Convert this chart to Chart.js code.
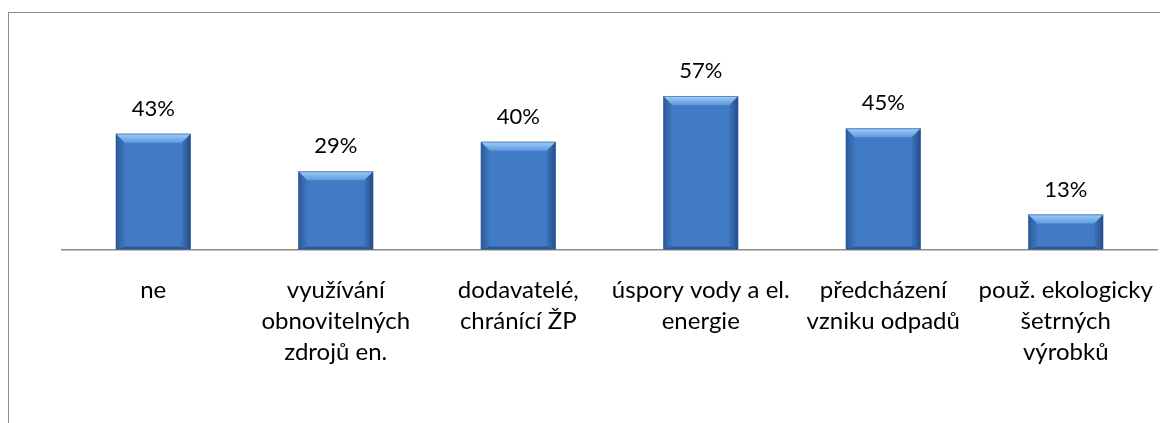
<!DOCTYPE html>
<html>
<head>
<meta charset="utf-8">
<script src="https://cdn.jsdelivr.net/npm/chart.js@4"></script>
<style>
  html, body { margin: 0; padding: 0; background: #fff; overflow: hidden; }
  #wrap { position: relative; width: 1160px; height: 423px; }
  #frame { position: absolute; left: 8px; top: 12px; width: 1300px; height: 600px;
           border: 1.5px solid #8c8c8c; box-sizing: border-box; }
  canvas { position: absolute; left: 0; top: 0; }
</style>
</head>
<body>
<div id="wrap">
  <div id="frame"></div>
  <canvas id="myChart" width="1160" height="423"></canvas>
</div>
<script>
// categories (multi-line labels, as in the picture)
const categories = [
  ["ne"],
  ["využívání", "obnovitelných", "zdrojů en."],
  ["dodavatelé,", "chránící ŽP"],
  ["úspory vody a el.", "energie"],
  ["předcházení", "vzniku odpadů"],
  ["použ. ekologicky", "šetrných", "výrobků"]
];
// share of answers in percent
const shares = [43, 29, 40, 57, 45, 13];

const fontName = 'Lato, "Open Sans", sans-serif';

// value labels above the bars
const valueLabels = {
  id: 'valueLabels',
  afterDatasetsDraw(chart) {
    const ctx = chart.ctx;
    const meta = chart.getDatasetMeta(0);
    ctx.save();
    ctx.font = '22px ' + fontName;
    ctx.fillStyle = '#000';
    ctx.textAlign = 'center';
    ctx.textBaseline = 'bottom';
    meta.data.forEach((bar, i) => {
      const p = bar.getProps(['x', 'y'], true);
      ctx.fillText(shares[i] + '%', p.x, p.y - 14);
    });
    ctx.restore();
  }
};

// bevel look of the bars
const bevel = {
  id: 'bevel',
  afterDatasetsDraw(chart) {
    const ctx = chart.ctx;
    const meta = chart.getDatasetMeta(0);
    const b = 9;
    ctx.save();
    meta.data.forEach((bar) => {
      const p = bar.getProps(['x', 'y', 'base', 'width'], true);
      const x0 = p.x - p.width / 2, x1 = p.x + p.width / 2;
      const y0 = p.y, y1 = p.base;
      // left edge
      let gl = ctx.createLinearGradient(x0, 0, x0 + b, 0);
      gl.addColorStop(0, 'rgba(20,50,100,0.45)');
      gl.addColorStop(1, 'rgba(20,50,100,0.05)');
      ctx.fillStyle = gl;
      ctx.beginPath();
      ctx.moveTo(x0, y0); ctx.lineTo(x0 + b, y0 + b); ctx.lineTo(x0 + b, y1 - 3); ctx.lineTo(x0, y1);
      ctx.closePath(); ctx.fill();
      // right edge
      let gr = ctx.createLinearGradient(x1, 0, x1 - b, 0);
      gr.addColorStop(0, 'rgba(15,40,85,0.55)');
      gr.addColorStop(1, 'rgba(15,40,85,0.08)');
      ctx.fillStyle = gr;
      ctx.beginPath();
      ctx.moveTo(x1, y0); ctx.lineTo(x1 - b, y0 + b); ctx.lineTo(x1 - b, y1 - 3); ctx.lineTo(x1, y1);
      ctx.closePath(); ctx.fill();
      // bottom edge
      ctx.fillStyle = 'rgba(15,40,85,0.40)';
      ctx.beginPath();
      ctx.moveTo(x0, y1); ctx.lineTo(x0 + b, y1 - 3); ctx.lineTo(x1 - b, y1 - 3); ctx.lineTo(x1, y1);
      ctx.closePath(); ctx.fill();
      // top bevel
      const g = ctx.createLinearGradient(0, y0, 0, y0 + b);
      g.addColorStop(0, '#a2cef6');
      g.addColorStop(1, '#5e9ae0');
      ctx.fillStyle = g;
      ctx.beginPath();
      ctx.moveTo(x0, y0); ctx.lineTo(x1, y0); ctx.lineTo(x1 - b, y0 + b); ctx.lineTo(x0 + b, y0 + b);
      ctx.closePath(); ctx.fill();
      // thin outline
      ctx.strokeStyle = 'rgba(40,80,140,0.5)';
      ctx.lineWidth = 1;
      ctx.strokeRect(x0 + 0.5, y0 + 0.5, p.width - 1, y1 - y0 - 1);
    });
    ctx.restore();
  }
};

new Chart(document.getElementById('myChart'), {
  type: 'bar',
  data: {
    labels: categories,
    datasets: [{
      data: shares,
      backgroundColor: '#417bc6',
      borderWidth: 0,
      barPercentage: 1,
      categoryPercentage: 0.41
    }]
  },
  options: {
    responsive: false,
    animation: false,
    layout: { padding: { left: 62, right: 3, top: 61, bottom: 30 } },
    plugins: {
      legend: { display: false },
      tooltip: { enabled: false }
    },
    scales: {
      x: {
        afterFit(scale) { scale.paddingLeft = 0; scale.paddingRight = 0; },
        grid: { display: false, drawTicks: false },
        border: { display: true, color: '#8c8c8c', width: 1.5 },
        ticks: {
          color: '#000',
          padding: 25,
          maxRotation: 0,
          autoSkip: false,
          font: { family: fontName, size: 24, lineHeight: 1.3 }
        }
      },
      y: {
        display: false,
        min: 0,
        max: 70
      }
    }
  },
  plugins: [bevel, valueLabels]
});
</script>
</body>
</html>
